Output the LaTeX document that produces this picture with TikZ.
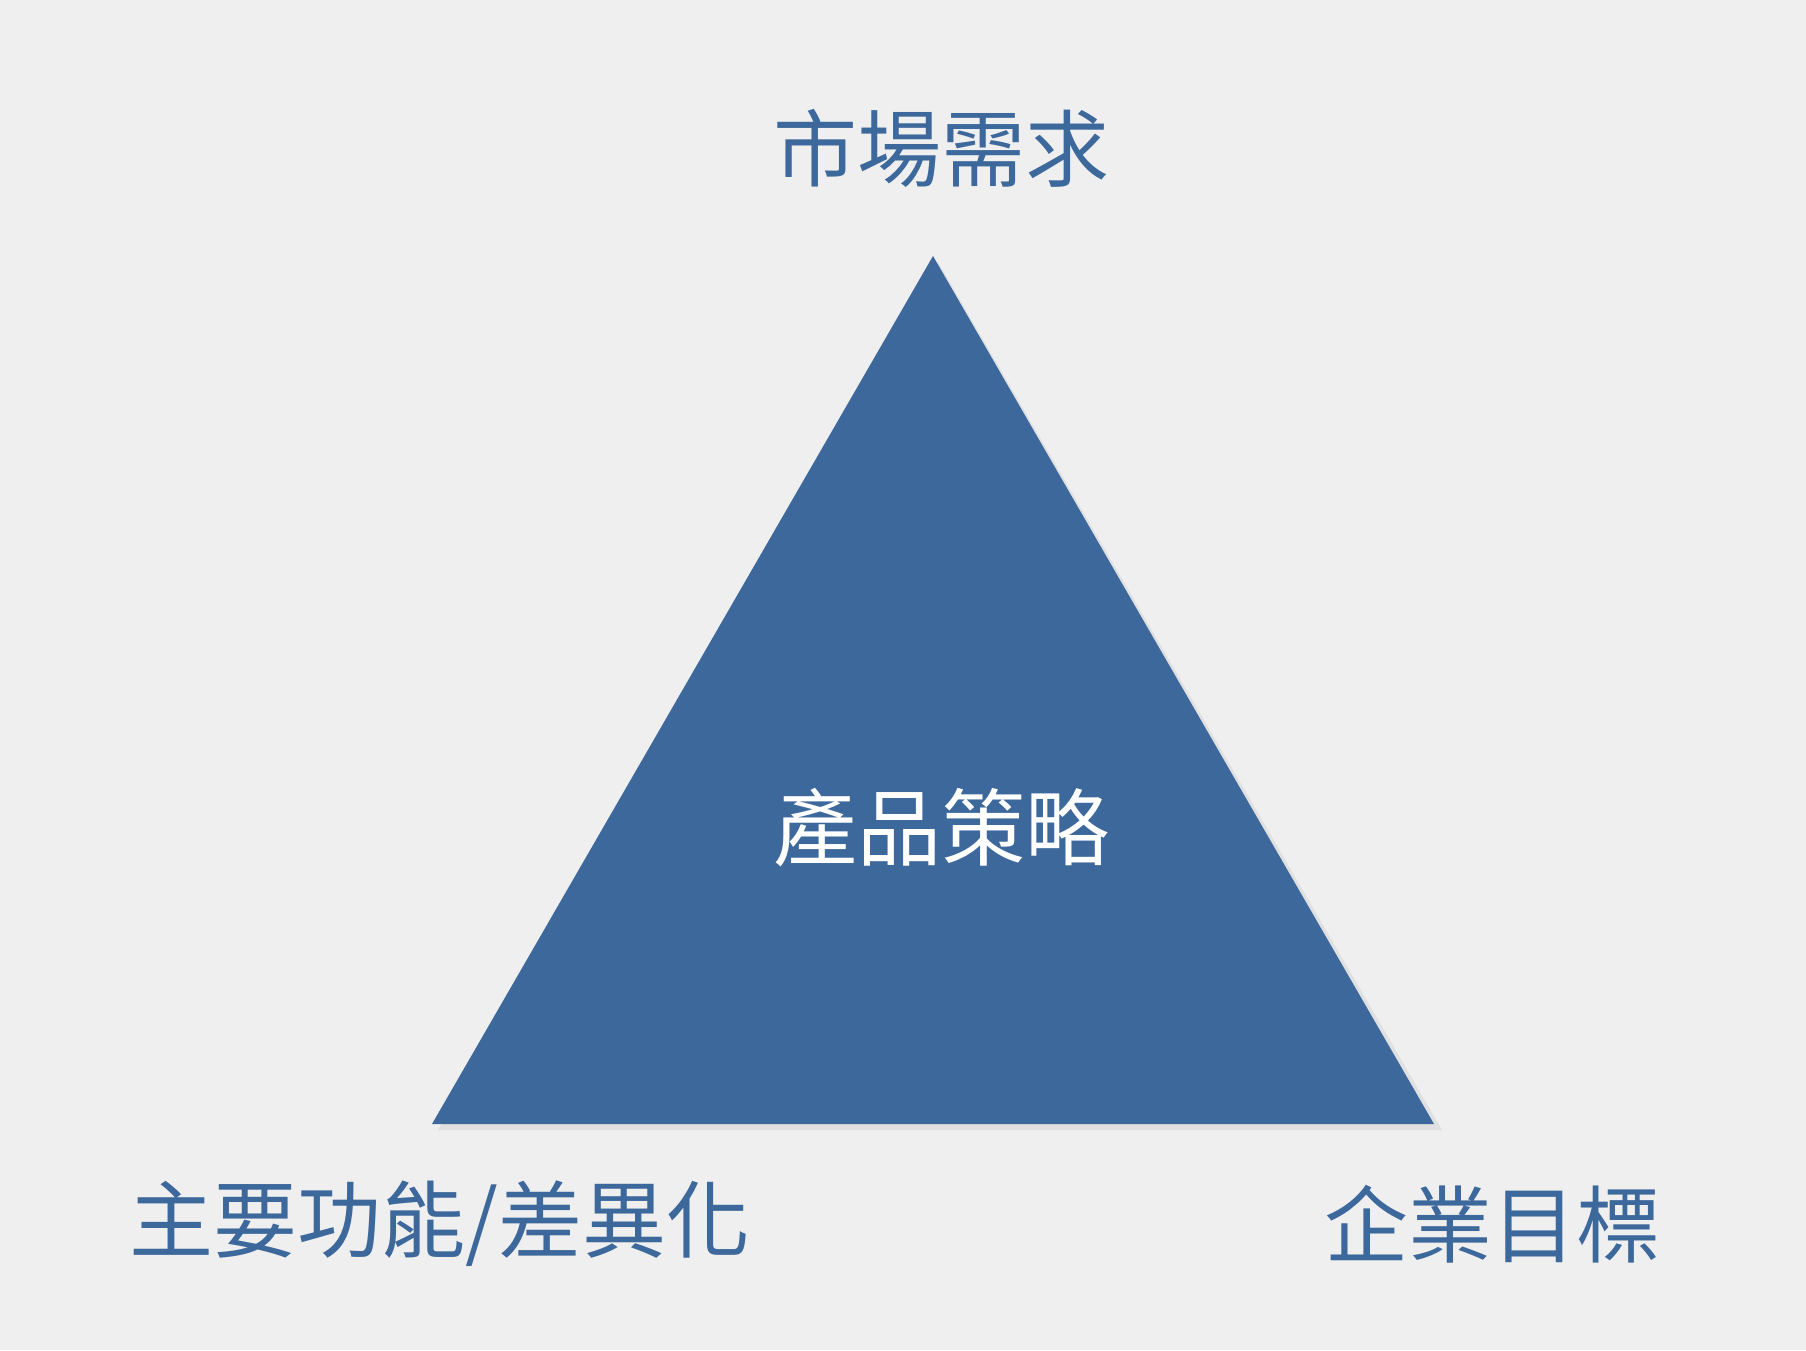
\documentclass[tikz,border=0pt]{standalone}
\usepackage{fontspec}
\newfontfamily\cjk{Noto Sans CJK TC}
\definecolor{bg}{HTML}{EFEFEF}
\definecolor{tri}{HTML}{3D689B}
\begin{document}
\begin{tikzpicture}[x=1pt,y=-1pt,
  lbl/.style={font=\cjk\fontsize{84}{90}\selectfont, text=tri, inner sep=0},
  inlbl/.style={font=\cjk\fontsize{84}{90}\selectfont, text=white, inner sep=0}]
\fill[bg] (0,0) rectangle (1806,1350);
\useasboundingbox (0,0) rectangle (1806,1350);
\fill[black!12] (938,262) -- (1442,1130) -- (438,1130) -- cycle;
\fill[tri] (933,256) coordinate (apex) -- (1434,1124) coordinate (br) -- (432,1124) coordinate (bl) -- cycle;
\node[lbl] (top) at (941,148) {市場需求};
\node[inlbl] (mid) at (941,828) {產品策略};
\node[lbl] (left) at (440,1224) {主要功能/差異化};
\node[lbl] (right) at (1492,1224) {企業目標};
\end{tikzpicture}
\end{document}
